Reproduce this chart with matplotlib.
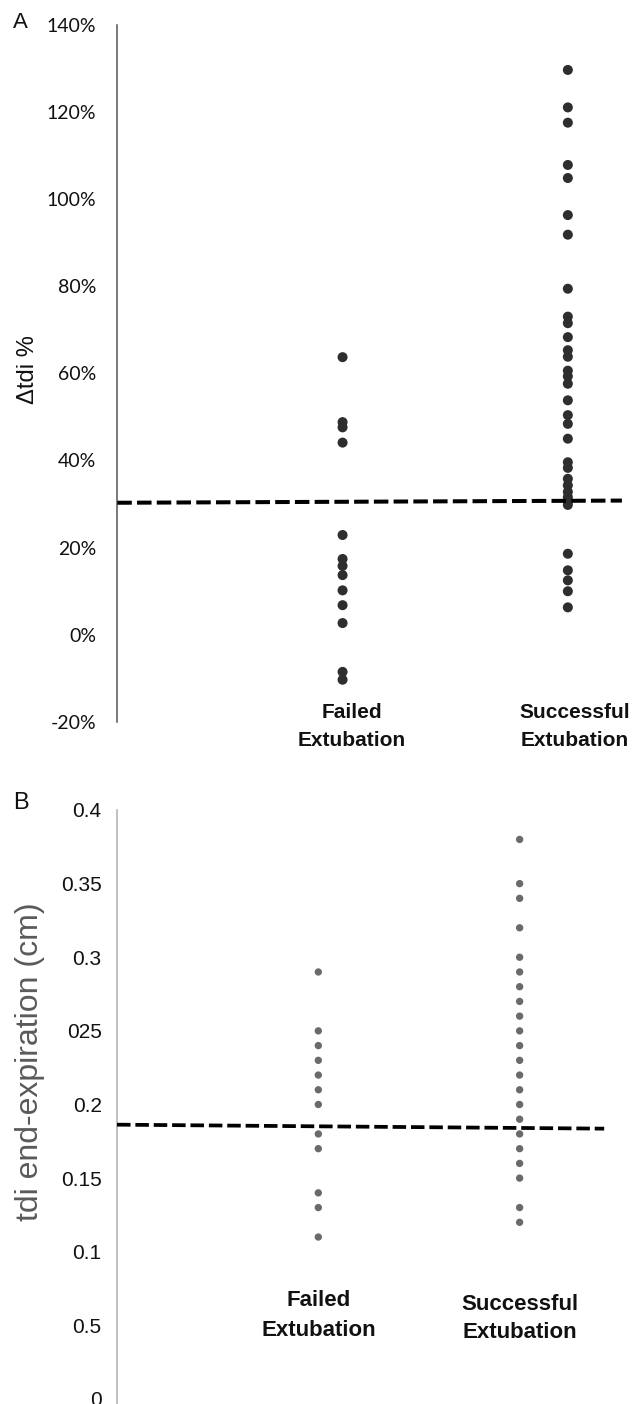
import matplotlib
matplotlib.use("Agg")
import matplotlib.pyplot as plt
import matplotlib.transforms as mtransforms

# ---------------- data ----------------
categories = ["Failed\nExtubation", "Successful\nExtubation"]

# Panel A: delta tdi %
failed_a = [63.7, 48.8, 47.6, 44.1, 22.9, 17.4, 15.8, 13.7, 10.2, 6.8, 2.7, -8.5, -10.3]
success_a = [129.6, 121.0, 117.5, 107.8, 104.8, 96.3, 91.8, 79.4, 73.0, 71.5, 68.3,
             65.3, 63.8, 60.6, 59.3, 57.6, 53.8, 50.4, 48.4, 45.0, 39.6, 38.3,
             35.8, 34.3, 32.8, 31.6, 30.5, 29.8, 18.6, 14.8, 12.5, 10.0, 6.3]
cutoff_a = [30.3, 30.8]          # dashed threshold line (start, end)
ticks_a = [-20, 0, 20, 40, 60, 80, 100, 120, 140]
ticklabels_a = ["-20%", "0%", "20%", "40%", "60%", "80%", "100%", "120%", "140%"]

# Panel B: tdi end-expiration (cm)
failed_b = [0.29, 0.25, 0.24, 0.23, 0.22, 0.21, 0.20, 0.18, 0.17, 0.14, 0.13, 0.11]
success_b = [0.38, 0.35, 0.34, 0.32, 0.30, 0.29, 0.28, 0.27, 0.26, 0.25, 0.24, 0.23,
             0.22, 0.21, 0.20, 0.19, 0.18, 0.17, 0.16, 0.15, 0.13, 0.12]
cutoff_b = [0.1863, 0.1836]
ticks_b = [0, 0.05, 0.1, 0.15, 0.2, 0.25, 0.3, 0.35, 0.4]
ticklabels_b = ["0", "0.5", "0.1", "0.15", "0.2", "025", "0.3", "0.35", "0.4"]

# ---------------- layout ----------------
W, H = 637, 1404
fig = plt.figure(figsize=(W / 100, H / 100), dpi=100)


def rect(x0, x1, ytop, ybot):
    return [x0 / W, 1 - ybot / H, (x1 - x0) / W, (ybot - ytop) / H]


def style_axes(ax, spine_color, spine_w):
    for s in ["top", "right", "bottom"]:
        ax.spines[s].set_visible(False)
    ax.spines["left"].set_color(spine_color)
    ax.spines["left"].set_linewidth(spine_w)
    ax.tick_params(axis="x", bottom=False, labelbottom=False)
    ax.tick_params(axis="y", length=0)
    ax.set_facecolor("none")


# ---- Panel A ----
axA = fig.add_axes(rect(117.3, 637, 24.6, 722))
style_axes(axA, "#555555", 1.1)
axA.set_xlim(0, 2.307)
axA.set_ylim(-20, 140)
axA.set_yticks(ticks_a)
axA.set_yticklabels(ticklabels_a, family=["Lato", "DejaVu Sans"], fontsize=14, color="#111111")
axA.tick_params(axis="y", pad=15)
axA.scatter([1] * len(failed_a), failed_a, s=52, color="#2e2e2e", edgecolor="none", zorder=3, clip_on=False)
axA.scatter([2] * len(success_a), success_a, s=52, color="#2e2e2e", edgecolor="none", zorder=3, clip_on=False)
axA.plot([0, 2.24], cutoff_a, color="black", lw=2.9, dashes=(3.6, 1.3), zorder=4, clip_on=False)

transA = mtransforms.blended_transform_factory(axA.transData, fig.transFigure)
lab_x_a = [1.042, 2.03]
for x, cat in zip(lab_x_a, categories):
    l1, l2 = cat.split("\n")
    axA.text(x, 1 - 712 / H, l1, transform=transA, ha="center", va="center",
             fontsize=15, fontweight="bold", family="Liberation Sans", color="#111111")
    axA.text(x, 1 - 740 / H, l2, transform=transA, ha="center", va="center",
             fontsize=15, fontweight="bold", family="Liberation Sans", color="#111111")

fig.text(28 / W, 1 - 370 / H, "Δtdi %", rotation=90, ha="center", va="center",
         fontsize=17, family=["Liberation Sans Narrow", "Liberation Sans", "DejaVu Sans"], color="#111111")
fig.text(20 / W, 1 - 22 / H, "A", ha="center", va="center", fontsize=16,
         family="Liberation Sans", color="#111111")

# ---- Panel B ----
axB = fig.add_axes(rect(117, 637, 810, 1399))
style_axes(axB, "#b5b5b5", 1.2)
axB.spines["left"].set_bounds(-0.01, 0.4)
axB.set_xlim(0, 2.583)
axB.set_ylim(0, 0.4)
axB.set_yticks(ticks_b)
axB.set_yticklabels(ticklabels_b, family="Liberation Sans", fontsize=15, color="#111111")
axB.tick_params(axis="y", pad=11)
axB.spines["left"].set_clip_on(False)
axB.scatter([1] * len(failed_b), failed_b, s=28, color="#6a6a6a", edgecolor="none", zorder=3)
axB.scatter([2] * len(success_b), success_b, s=28, color="#6a6a6a", edgecolor="none", zorder=3)
axB.plot([0, 2.42], cutoff_b, color="black", lw=2.7, dashes=(3.6, 1.3), zorder=4, clip_on=False)

transB = mtransforms.blended_transform_factory(axB.transData, fig.transFigure)
lab_y_b = [(1301, 1330), (1305, 1333)]
for x, cat, (y1, y2) in zip([1.0, 2.0], categories, lab_y_b):
    l1, l2 = cat.split("\n")
    axB.text(x, 1 - y1 / H, l1, transform=transB, ha="center", va="center",
             fontsize=16, fontweight="bold", family="Liberation Sans", color="#111111")
    axB.text(x, 1 - y2 / H, l2, transform=transB, ha="center", va="center",
             fontsize=16, fontweight="bold", family="Liberation Sans", color="#111111")

fig.text(30 / W, 1 - 1062 / H, "tdi end-expiration (cm)", rotation=90, ha="center", va="center",
         fontsize=23, family="Liberation Sans", color="#5a5a5a")
fig.text(21 / W, 1 - 803 / H, "B", ha="center", va="center", fontsize=17,
         family="Liberation Sans", color="#111111")

fig.savefig("out.png", dpi=100, facecolor="white")
